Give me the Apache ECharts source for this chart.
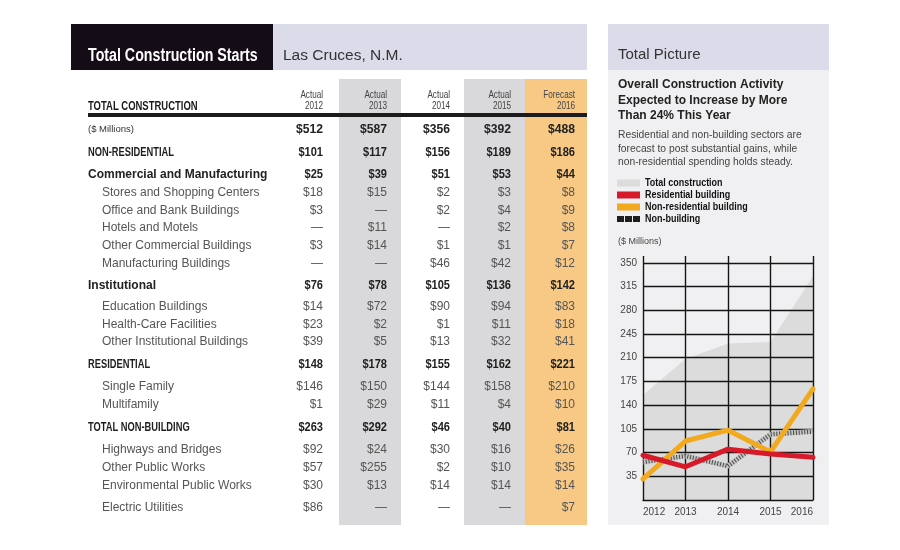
<!DOCTYPE html>
<html><head><meta charset="utf-8">
<script src="https://cdn.jsdelivr.net/npm/echarts@6/dist/echarts.min.js"></script>
<style>html,body{margin:0;padding:0;background:#fff}#c{width:900px;height:550px}</style>
</head><body><div id="c"></div>
<script>
// ---------- TABLE DATA ----------
const tableYears = ['2012', '2013', '2014', '2015', '2016'];
const tableColHeads = ['Actual', 'Actual', 'Actual', 'Actual', 'Forecast'];
const rowLabels = [
  '($ Millions)', 'NON-RESIDENTIAL', 'Commercial and Manufacturing',
  'Stores and Shopping Centers', 'Office and Bank Buildings', 'Hotels and Motels',
  'Other Commercial Buildings', 'Manufacturing Buildings', 'Institutional',
  'Education Buildings', 'Health-Care Facilities', 'Other Institutional Buildings',
  'RESIDENTIAL', 'Single Family', 'Multifamily', 'TOTAL NON-BUILDING',
  'Highways and Bridges', 'Other Public Works', 'Environmental Public Works', 'Electric Utilities'
];
const rowKinds = ['total', 'caps', 'group', 'sub', 'sub', 'sub', 'sub', 'sub', 'group',
  'sub', 'sub', 'sub', 'caps', 'sub', 'sub', 'caps', 'sub', 'sub', 'sub', 'sub'];
const vals2012 = ['$512', '$101', '$25', '$18', '$3', '—', '$3', '—', '$76', '$14', '$23', '$39', '$148', '$146', '$1', '$263', '$92', '$57', '$30', '$86'];
const vals2013 = ['$587', '$117', '$39', '$15', '—', '$11', '$14', '—', '$78', '$72', '$2', '$5', '$178', '$150', '$29', '$292', '$24', '$255', '$13', '—'];
const vals2014 = ['$356', '$156', '$51', '$2', '$2', '—', '$1', '$46', '$105', '$90', '$1', '$13', '$155', '$144', '$11', '$46', '$30', '$2', '$14', '—'];
const vals2015 = ['$392', '$189', '$53', '$3', '$4', '$2', '$1', '$42', '$136', '$94', '$11', '$32', '$162', '$158', '$4', '$40', '$16', '$10', '$14', '—'];
const vals2016 = ['$488', '$186', '$44', '$8', '$9', '$8', '$7', '$12', '$142', '$83', '$18', '$41', '$221', '$210', '$10', '$81', '$26', '$35', '$14', '$7'];

// ---------- CHART DATA ----------
const chartYears = ['2012', '2013', '2014', '2015', '2016'];
const totalConstruction = [155, 208, 231, 233, 330];
const residentialBuilding = [66, 49, 75, 68, 63];
const nonResidentialBuilding = [31, 87, 103, 71, 164];
const nonBuilding = [56, 65, 50, 97, 101];
const yTickValues = [35, 70, 105, 140, 175, 210, 245, 280, 315, 350];
const legendNames = ['Total construction', 'Residential building', 'Non-residential building', 'Non-building'];

// ---------- LAYOUT ----------
const SANS = '"Liberation Sans",Arial,Helvetica,sans-serif';
const rowY = [129, 153, 175, 192.5, 210.5, 228, 246, 263.5, 286, 307, 324.5, 341.5, 364.5, 387, 404.5, 427.5, 449.5, 467.5, 485.5, 507.5];
const colRight = [323, 387, 450, 511, 575];
const valueCols = [vals2012, vals2013, vals2014, vals2015, vals2016];

function txt(x, y, s, font, fill, align, sx) {
  return {
    type: 'text', x: x, y: y, silent: true, z: 10, scaleX: sx || 1,
    style: { text: s, font: font, fill: fill, textAlign: align || 'left', align: align || 'left',
      textVerticalAlign: 'middle', verticalAlign: 'middle' }
  };
}
function rect(x, y, w, h, fill) {
  return { type: 'rect', silent: true, z: 1, shape: { x: x, y: y, width: w, height: h }, style: { fill: fill } };
}

const g = [];
// left panel
g.push(rect(71, 24, 202, 46, '#140c16'));
g.push(rect(273, 24, 314, 46, '#dcdbe9'));
g.push(rect(339, 79, 62, 446, '#d9d9db'));
g.push(rect(464, 79, 61, 446, '#d9d9db'));
g.push(rect(525, 79, 62, 446, '#f7c985'));
g.push(txt(88, 56, 'Total Construction Starts', 'bold 18px ' + SANS, '#ffffff', 'left', 0.79));
g.push(txt(283, 56, 'Las Cruces, N.M.', '15.5px ' + SANS, '#333333'));
g.push(txt(88, 106, 'TOTAL CONSTRUCTION', 'bold 12.8px ' + SANS, '#1a1a1a', 'left', 0.74));
g.push(Object.assign(rect(88, 113, 499, 4, '#1b1b1b'), { z: 5 }));
tableYears.forEach(function (yr, i) {
  g.push(txt(colRight[i], 95, tableColHeads[i], '11px ' + SANS, '#444444', 'right', 0.74));
  g.push(txt(colRight[i], 106, yr, '11px ' + SANS, '#444444', 'right', 0.74));
});
rowLabels.forEach(function (lab, r) {
  const k = rowKinds[r];
  let lf, lc, lx = 88, vf, vc, ls = 1, vs = 1;
  if (k === 'total') { lf = '9.5px ' + SANS; lc = '#333'; vf = 'bold 13.5px ' + SANS; vc = '#222'; vs = 0.9; }
  else if (k === 'caps') { lf = 'bold 12.6px ' + SANS; lc = '#1e1e1e'; ls = 0.74; vf = 'bold 12.3px ' + SANS; vc = '#1e1e1e'; vs = 0.9; }
  else if (k === 'group') { lf = 'bold 12px ' + SANS; lc = '#222'; vf = 'bold 12.3px ' + SANS; vc = '#222'; vs = 0.9; }
  else { lf = '12px ' + SANS; lc = '#555'; lx = 102; vf = '12px ' + SANS; vc = '#555'; }
  g.push(txt(lx, rowY[r], lab, lf, lc, 'left', ls));
  valueCols.forEach(function (col, i) {
    g.push(txt(colRight[i], rowY[r], col[r], vf, vc, 'right', vs));
  });
});
// right panel
g.push(rect(608, 24, 221, 46, '#dcdbe9'));
g.push(Object.assign(rect(608, 70, 221, 455, '#f0f0f2'), { z: -1 }));
g.push(txt(618, 55, 'Total Picture', '15px ' + SANS, '#333333'));
['Overall Construction Activity', 'Expected to Increase by More', 'Than 24% This Year'].forEach(function (s, i) {
  g.push(txt(618, 85 + i * 15.5, s, 'bold 12px ' + SANS, '#222222'));
});
['Residential and non-building sectors are', 'forecast to post substantial gains, while', 'non-residential spending holds steady.'].forEach(function (s, i) {
  g.push(txt(618, 135 + i * 13.8, s, '10.3px ' + SANS, '#444444'));
});
const legendY = [183, 195, 207, 219];
g.push(rect(617, legendY[0] - 3.5, 23, 7, '#dcdcdc'));
g.push(rect(617, legendY[1] - 3.5, 23, 7, '#d71a2a'));
g.push(rect(617, legendY[2] - 3.5, 23, 7, '#f2a91e'));
g.push(rect(617, legendY[3] - 3, 7, 6, '#1e1e1e'));
g.push(rect(625, legendY[3] - 3, 7, 6, '#1e1e1e'));
g.push(rect(633, legendY[3] - 3, 7, 6, '#1e1e1e'));
legendNames.forEach(function (s, i) {
  g.push(txt(645, legendY[i], s, 'bold 11.5px ' + SANS, '#111111', 'left', 0.78));
});
g.push(txt(618, 242, '($ Millions)', '9px ' + SANS, '#444444'));

const chart = echarts.init(document.getElementById('c'), null, { renderer: 'canvas' });
chart.setOption({
  animation: false,
  backgroundColor: '#ffffff',
  graphic: { elements: g },
  grid: { left: 643, top: 256, width: 170, height: 244, containLabel: false },
  xAxis: {
    type: 'category', data: chartYears, boundaryGap: false, z: 3,
    axisLine: { show: true, lineStyle: { color: '#151515', width: 1.4 } },
    axisTick: { show: false },
    splitLine: { show: true, lineStyle: { color: '#151515', width: 1.4 } },
    axisLabel: { color: '#444', fontSize: 10, fontFamily: SANS, margin: 7, alignMinLabel: 'left', alignMaxLabel: 'right' }
  },
  yAxis: {
    type: 'value', min: 0, max: 360, interval: 35, z: 3,
    axisLine: { show: false }, axisTick: { show: false }, splitLine: { show: false },
    axisLabel: {
      color: '#444', fontSize: 10, fontFamily: SANS, margin: 6,
      formatter: function (v) { return yTickValues.indexOf(v) >= 0 ? String(v) : ''; }
    }
  },
  series: [
    {
      name: legendNames[0], type: 'line', data: totalConstruction, z: 1, showSymbol: false, silent: true,
      lineStyle: { width: 0 }, areaStyle: { color: '#dcdcdc', opacity: 1 },
      markLine: {
        silent: true, symbol: ['none', 'none'], z: 2, animation: false,
        label: { show: false }, emphasis: { disabled: true },
        lineStyle: { color: '#151515', width: 1.4, type: 'solid' },
        data: yTickValues.map(function (v) { return { yAxis: v }; })
      }
    },
    {
      name: 'nb-base', type: 'line', data: nonBuilding, z: 6, showSymbol: false, silent: true,
      lineStyle: { color: '#c4c4c4', width: 5 }
    },
    {
      name: legendNames[3], type: 'line', data: nonBuilding, z: 6, showSymbol: false, silent: true,
      lineStyle: { color: '#4a4a4a', width: 4.5, type: [1, 1.8] }
    },
    {
      name: legendNames[2], type: 'line', data: nonResidentialBuilding, z: 7, showSymbol: false, silent: true,
      lineStyle: { color: '#f2a91e', width: 5, cap: 'round', join: 'round' }
    },
    {
      name: legendNames[1], type: 'line', data: residentialBuilding, z: 8, showSymbol: false, silent: true,
      lineStyle: { color: '#d71a2a', width: 5, cap: 'round', join: 'round' }
    }
  ]
});
</script></body></html>
